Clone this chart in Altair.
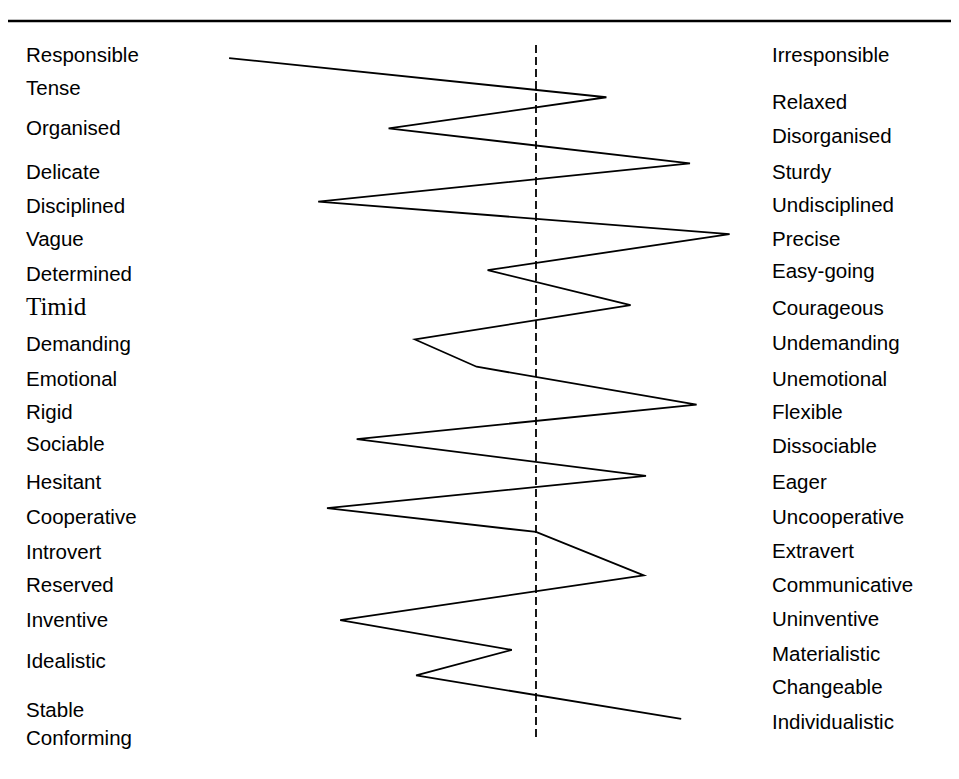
import altair as alt
import pandas as pd

# Left-hand adjectives and their row positions
left_labels = ["Responsible", "Tense", "Organised", "Delicate", "Disciplined", "Vague",
               "Determined", "Timid", "Demanding", "Emotional", "Rigid", "Sociable",
               "Hesitant", "Cooperative", "Introvert", "Reserved", "Inventive",
               "Idealistic", "Stable", "Conforming"]
left_rows = [0.97, 1.92, 3.07, 4.31, 5.28, 6.24, 7.23, 8.13, 9.23, 10.23, 11.17, 12.09,
             13.18, 14.16, 15.16, 16.11, 17.11, 18.28, 19.68, 20.49]

# Right-hand adjectives and their row positions
right_labels = ["Irresponsible", "Relaxed", "Disorganised", "Sturdy", "Undisciplined",
                "Precise", "Easy-going", "Courageous", "Undemanding", "Unemotional",
                "Flexible", "Dissociable", "Eager", "Uncooperative", "Extravert",
                "Communicative", "Uninventive", "Materialistic", "Changeable",
                "Individualistic"]
right_rows = [0.97, 2.31, 3.29, 4.31, 5.26, 6.23, 7.14, 8.21, 9.20, 10.23, 11.17, 12.14,
              13.17, 14.16, 15.14, 16.11, 17.09, 18.09, 19.04, 20.02]

# Profile line (score on a 1-7 scale, row position)
profile_scores = [1.21, 4.64, 2.66, 5.40, 2.02, 5.76, 3.56, 4.86, 2.90, 3.46,
                  5.46, 2.37, 5.00, 2.10, 4.00, 4.98, 2.22, 3.78, 2.91, 5.32]
profile_rows = [1.03, 2.15, 3.04, 4.04, 5.13, 6.06, 7.09, 8.09, 9.07, 9.85,
                10.93, 11.92, 12.97, 13.89, 14.57, 15.81, 17.09, 17.94, 18.67, 19.91]

midpoint = [4.0]
mid_top = [0.66]
mid_bottom = [20.43]

xscale = alt.Scale(domain=[0.5, 7.5])
yscale = alt.Scale(domain=[-0.4, 21.4], reverse=True)

left_df = pd.DataFrame({"label": left_labels, "row": left_rows})
right_df = pd.DataFrame({"label": right_labels, "row": right_rows})
prof_df = pd.DataFrame({"i": list(range(len(profile_scores))),
                        "score": profile_scores, "row": profile_rows})
mid_df = pd.DataFrame({"score": midpoint, "top": mid_top, "bottom": mid_bottom})

sans = "Liberation Sans"
fs = 20.5

left_text = alt.Chart(left_df).transform_filter(
    "datum.label != 'Timid'"
).mark_text(align="left", baseline="middle", font=sans, fontSize=fs, color="black").encode(
    x=alt.value(-125),
    y=alt.Y("row:Q", scale=yscale, axis=None),
    text="label:N",
)

timid_text = alt.Chart(left_df).transform_filter(
    "datum.label == 'Timid'"
).mark_text(align="left", baseline="middle", font="Liberation Serif", fontSize=25, color="black").encode(
    x=alt.value(-125),
    y=alt.Y("row:Q", scale=yscale, axis=None),
    text="label:N",
)

right_text = alt.Chart(right_df).mark_text(
    align="left", baseline="middle", font=sans, fontSize=fs, color="black"
).encode(
    x=alt.value(621),
    y=alt.Y("row:Q", scale=yscale, axis=None),
    text="label:N",
)

line = alt.Chart(prof_df).mark_line(color="black", strokeWidth=1.8, strokeJoin="miter").encode(
    x=alt.X("score:Q", scale=xscale, axis=None),
    y=alt.Y("row:Q", scale=yscale, axis=None),
    order=alt.Order("i:Q"),
)

mid = alt.Chart(mid_df).mark_rule(color="black", strokeWidth=1.8, strokeDash=[8, 4]).encode(
    x=alt.X("score:Q", scale=xscale, axis=None),
    y=alt.Y("top:Q", scale=yscale, axis=None),
    y2="bottom:Q",
)

top_rule = alt.Chart(mid_df).mark_rule(color="black", strokeWidth=2.5).encode(
    x=alt.value(-143),
    x2=alt.value(800),
    y=alt.value(13),
)

chart = alt.layer(top_rule, mid, line, left_text, timid_text, right_text).properties(
    width=770,
    height=763,
    autosize=alt.AutoSizeParams(type="none"),
    padding={"left": 143, "top": 0, "right": 30, "bottom": 0},
    background="white",
).configure_view(stroke=None)

chart.save("out.html", embed_options={"renderer": "svg", "actions": False})
